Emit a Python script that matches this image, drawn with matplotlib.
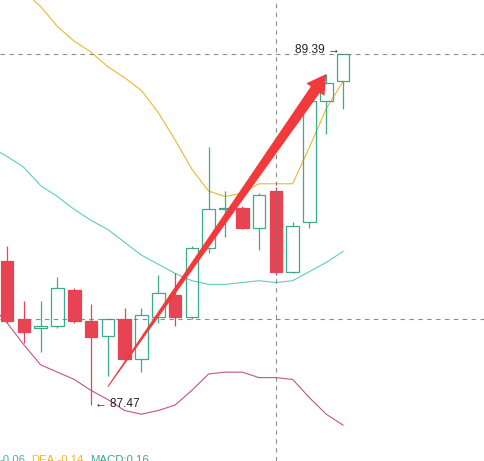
#!/usr/bin/env python3
"""
Intraday candlestick chart with Bollinger bands, crosshair and trend arrow.
Saves out.png (484x461).
"""

import matplotlib
matplotlib.use("Agg")
import matplotlib.pyplot as plt
import numpy as np
from matplotlib.patches import Polygon, Rectangle
from matplotlib.transforms import IdentityTransform

plt.rcParams["font.family"] = ["Liberation Sans", "DejaVu Sans"]

# bars, left to right
OPEN = [88.26, 87.94, 87.89, 87.90, 88.10, 87.93, 87.85, 87.94, 87.72, 87.95, 88.07,
        87.95, 88.33, 88.54, 88.55, 88.44, 88.64, 88.20, 88.47, 89.13, 89.24]
HIGH = [88.34, 88.04, 88.04, 88.17, 88.11, 88.02, 87.94, 88.00, 88.00, 88.18, 88.19,
        88.34, 88.88, 88.64, 88.56, 88.63, 88.66, 88.47, 89.14, 89.28, 89.39]
LOW = [87.92, 87.81, 87.76, 87.89, 87.92, 87.47, 87.63, 87.71, 87.65, 87.92, 87.90,
       87.94, 88.30, 88.39, 88.43, 88.32, 88.18, 88.19, 88.44, 88.95, 89.09]
CLOSE = [87.93, 87.87, 87.90, 88.11, 87.93, 87.84, 87.94, 87.72, 87.96, 88.08, 87.95,
         88.33, 88.54, 88.55, 88.44, 88.62, 88.20, 88.45, 89.13, 89.23, 89.39]

# bollinger bands, first value belongs to the bar just before the window
BOLL_UP = [89.85, 89.78, 89.73, 89.65, 89.54, 89.46, 89.40, 89.32, 89.26, 89.19, 89.07,
           88.92, 88.76, 88.64, 88.61, 88.63, 88.68, 88.68, 88.68, 88.88, 89.09, 89.24]
BOLL_MID = [88.88, 88.83, 88.77, 88.67, 88.61, 88.54, 88.48, 88.43, 88.36, 88.29, 88.24,
            88.19, 88.15, 88.13, 88.13, 88.14, 88.15, 88.14, 88.15, 88.20, 88.25, 88.31]
BOLL_LOW = [88.02, 87.92, 87.80, 87.69, 87.65, 87.61, 87.55, 87.50, 87.44, 87.42, 87.44,
            87.47, 87.55, 87.64, 87.65, 87.65, 87.62, 87.62, 87.61, 87.51, 87.42, 87.36]

CROSS_BAR = 16
CROSS_PRICES = [89.39, 87.94]

ARROW_FROM = (6.0, 87.57)
ARROW_TO = (19.0, 89.28)

DIF, DEA, MACD = -0.06, -0.14, 0.16

RED = "#e84352"
GREEN = "#3caa8c"
ARROW_RED = "#f23a3c"
BODY_W = 0.75


def draw_candles(ax):
    for i, (o, h, l, c) in enumerate(zip(OPEN, HIGH, LOW, CLOSE)):
        up = c >= o
        col = GREEN if up else RED
        top, bot = max(o, c), min(o, c)
        ax.vlines(i, top, h, color=col, lw=0.9, zorder=3)
        ax.vlines(i, l, bot, color=col, lw=0.9, zorder=3)
        ax.add_patch(Rectangle((i - BODY_W / 2, bot), BODY_W, max(top - bot, 0.006),
                               facecolor="none" if up else col, edgecolor=col,
                               lw=0.9, zorder=3))


def draw_arrow(ax, start, end):
    p0 = ax.transData.transform(start)
    p1 = ax.transData.transform(end)
    d = p1 - p0
    u = d / np.hypot(*d)
    n = np.array([-u[1], u[0]])
    head_len, head_w = 19, 22
    w0, w1 = 1.0, 11.0
    base = p1 - u * head_len
    pts = [p0 + n * w0 / 2, base + n * w1 / 2, base + n * head_w / 2, p1,
           base - n * head_w / 2, base - n * w1 / 2, p0 - n * w0 / 2]
    ax.add_patch(Polygon(pts, closed=True, transform=IdentityTransform(),
                         facecolor=ARROW_RED, edgecolor="none", zorder=6))


def main():
    fig = plt.figure(figsize=(4.84, 4.61), dpi=100)
    ax = fig.add_axes([0, 0, 1, 1])
    ax.set_axis_off()
    ax.set_xlim(-0.417, 28.39)
    ax.set_ylim(87.164, 89.685)

    bx = np.arange(len(BOLL_UP)) - 1
    ax.plot(bx, BOLL_UP, color="#e8b92e", lw=0.8, zorder=2)
    ax.plot(bx, BOLL_MID, color="#5ccdbd", lw=0.8, zorder=2)
    ax.plot(bx, BOLL_LOW, color="#c8508c", lw=0.8, zorder=2)

    draw_candles(ax)

    for p in CROSS_PRICES:
        ax.axhline(p, color="#777777", lw=0.8, dashes=(4, 4), zorder=4, alpha=0.85)
    ax.axvline(CROSS_BAR, color="#777777", lw=0.8, dashes=(4, 4), zorder=4, alpha=0.85)

    hi = int(np.argmax(HIGH))
    lo = int(np.argmin(LOW))
    ax.annotate(f"{HIGH[hi]:.2f} \u2192", xy=(hi - BODY_W / 2, HIGH[hi]), xytext=(3, 4),
                textcoords="offset pixels", ha="right", va="center",
                fontsize=8.6, color="#222222", zorder=7)
    ax.annotate(f"\u2190 {LOW[lo]:.2f}", xy=(lo, LOW[lo]), xytext=(4, 1),
                textcoords="offset pixels", ha="left", va="center",
                fontsize=8.5, color="#222222", zorder=7)

    t1 = ax.annotate(f"{DIF:.2f}", xy=(-1, -2), xycoords="figure pixels",
                     ha="left", va="baseline", fontsize=8.2, color="#45b59c",
                     annotation_clip=False)
    t2 = ax.annotate(f"DEA:{DEA:.2f}", xy=(1, 0), xycoords=t1, xytext=(6, 0),
                     textcoords="offset pixels", ha="left", va="bottom",
                     fontsize=8.2, color="#eeb52a", annotation_clip=False)
    ax.annotate(f"MACD:{MACD:.2f}", xy=(1, 0), xycoords=t2, xytext=(7, 0),
                textcoords="offset pixels", ha="left", va="bottom",
                fontsize=8.2, color="#3aa88c", annotation_clip=False)

    draw_arrow(ax, ARROW_FROM, ARROW_TO)

    fig.savefig("out.png", dpi=100)
    plt.close(fig)


if __name__ == "__main__":
    main()
